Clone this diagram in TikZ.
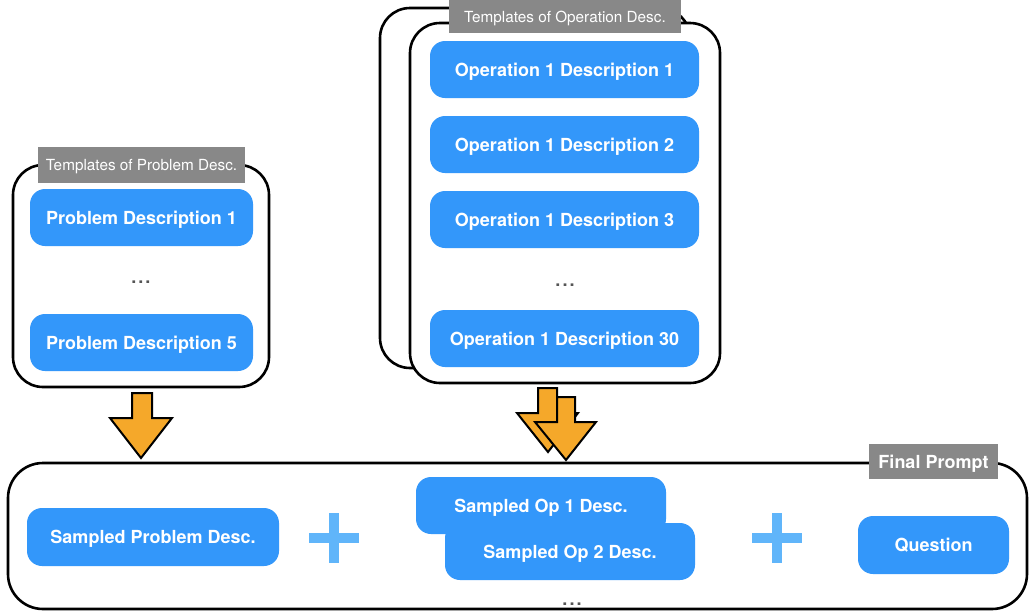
\documentclass[tikz,border=0pt]{standalone}
\usepackage{fontspec}
\setmainfont{TeX Gyre Heros}
\definecolor{boxblue}{RGB}{51,151,250}
\definecolor{plusblue}{RGB}{96,181,250}
\definecolor{labelgray}{RGB}{136,136,136}
\definecolor{arroworange}{RGB}{245,168,42}
\definecolor{dotgray}{RGB}{85,85,85}
\begin{document}
\begin{tikzpicture}[x=1pt,y=-1pt,
  bluebox/.style={fill=boxblue, rounded corners=15pt, text=white,
    font=\fontsize{18}{20}\selectfont\bfseries, inner sep=0pt, minimum height=57pt,
    text height=13pt, text depth=0pt},
  container/.style={draw=black, fill=white, line width=2.6pt, rounded corners=30pt, inner sep=0pt},
  graylabel/.style={fill=labelgray, text=white, inner sep=0pt,
    font=\fontsize{15.3}{17}\selectfont, text height=11pt, text depth=0pt},
  blockarrow/.style={fill=arroworange, draw=black, line width=2pt, line join=miter},
  plusbar/.style={fill=plusblue, draw=none},
  dots/.style={text=dotgray, font=\fontsize{18}{20}\selectfont\bfseries}]
\useasboundingbox (0,0) rectangle (1029,611);

% ---------- left container ----------
\node[container, minimum width=256pt, minimum height=222pt] (probc) at (141,276) {};
\node[graylabel, minimum width=207pt, minimum height=36pt] (problab) at (141.5,165) {Templates of Problem Desc.};
\node[bluebox, minimum width=223pt] (pd1) at (141.5,217.5) {Problem Description 1};
\node[dots] (pdots) at (141,282) {.\kern2pt.\kern2pt.};
\node[bluebox, minimum width=223pt] (pd5) at (141.5,342.5) {Problem Description 5};

% ---------- operation containers ----------
\node[container, minimum width=310pt, minimum height=360pt] (opback) at (535,188) {};
\node[container, minimum width=310pt, minimum height=360pt] (opfront) at (565,203) {};
\node[graylabel, minimum width=232pt, minimum height=33pt] (oplab) at (565,16.5) {Templates of Operation Desc.};
\node[bluebox, minimum width=269pt] (od1) at (564.5,69.5) {Operation 1 Description 1};
\node[bluebox, minimum width=269pt] (od2) at (564.5,144.5) {Operation 1 Description 2};
\node[bluebox, minimum width=269pt] (od3) at (564.5,219.5) {Operation 1 Description 3};
\node[dots] (odots) at (565,285) {.\kern2pt.\kern2pt.};
\node[bluebox, minimum width=269pt] (od30) at (564.5,338.5) {Operation 1 Description 30};

% ---------- final prompt container ----------
\node[container, rounded corners=35pt, minimum width=1019pt, minimum height=146pt] (final) at (517.5,536) {};
\node[graylabel, minimum width=129pt, minimum height=35pt,
  font=\fontsize{18}{20}\selectfont\bfseries, text height=13pt] (finallab) at (933.5,461.5) {Final Prompt};
\node[bluebox, minimum width=252pt, minimum height=58pt] (spd) at (153,537) {Sampled Problem Desc.};
\node[bluebox, minimum width=250pt] (sop1) at (541,505.5) {};
\node[bluebox, minimum width=250pt] (sop2) at (570,551.5) {Sampled Op 2 Desc.};
\node[text=white, font=\fontsize{18}{20}\selectfont\bfseries, text height=13pt, text depth=0pt,
  inner sep=0pt] (sop1t) at (541,505.5) {Sampled Op 1 Desc.};
\node[bluebox, minimum width=151pt, minimum height=58pt] (quest) at (933.5,545) {Question};
\node[dots] (fdots) at (572,604.5) {.\kern2pt.\kern2pt.};

% plus signs
\fill[plusbar] (309,532.5) rectangle (359,542.5);
\fill[plusbar] (329,512.5) rectangle (339,562.5);
\fill[plusbar] (752,532.5) rectangle (802,542.5);
\fill[plusbar] (772,512.5) rectangle (782,562.5);

% ---------- block arrows ----------
\draw[blockarrow] (132,393) -- (152,393) -- (152,418) -- (172,418) -- (141,458)
  -- (110,418) -- (132,418) -- cycle;
\draw[blockarrow] (538,388) -- (557,388) -- (557,413) -- (578,413) -- (548,452)
  -- (517,413) -- (538,413) -- cycle;
\draw[blockarrow] (557,397) -- (575,397) -- (575,422) -- (596,422) -- (566,460)
  -- (535,422) -- (557,422) -- cycle;
\end{tikzpicture}
\end{document}
